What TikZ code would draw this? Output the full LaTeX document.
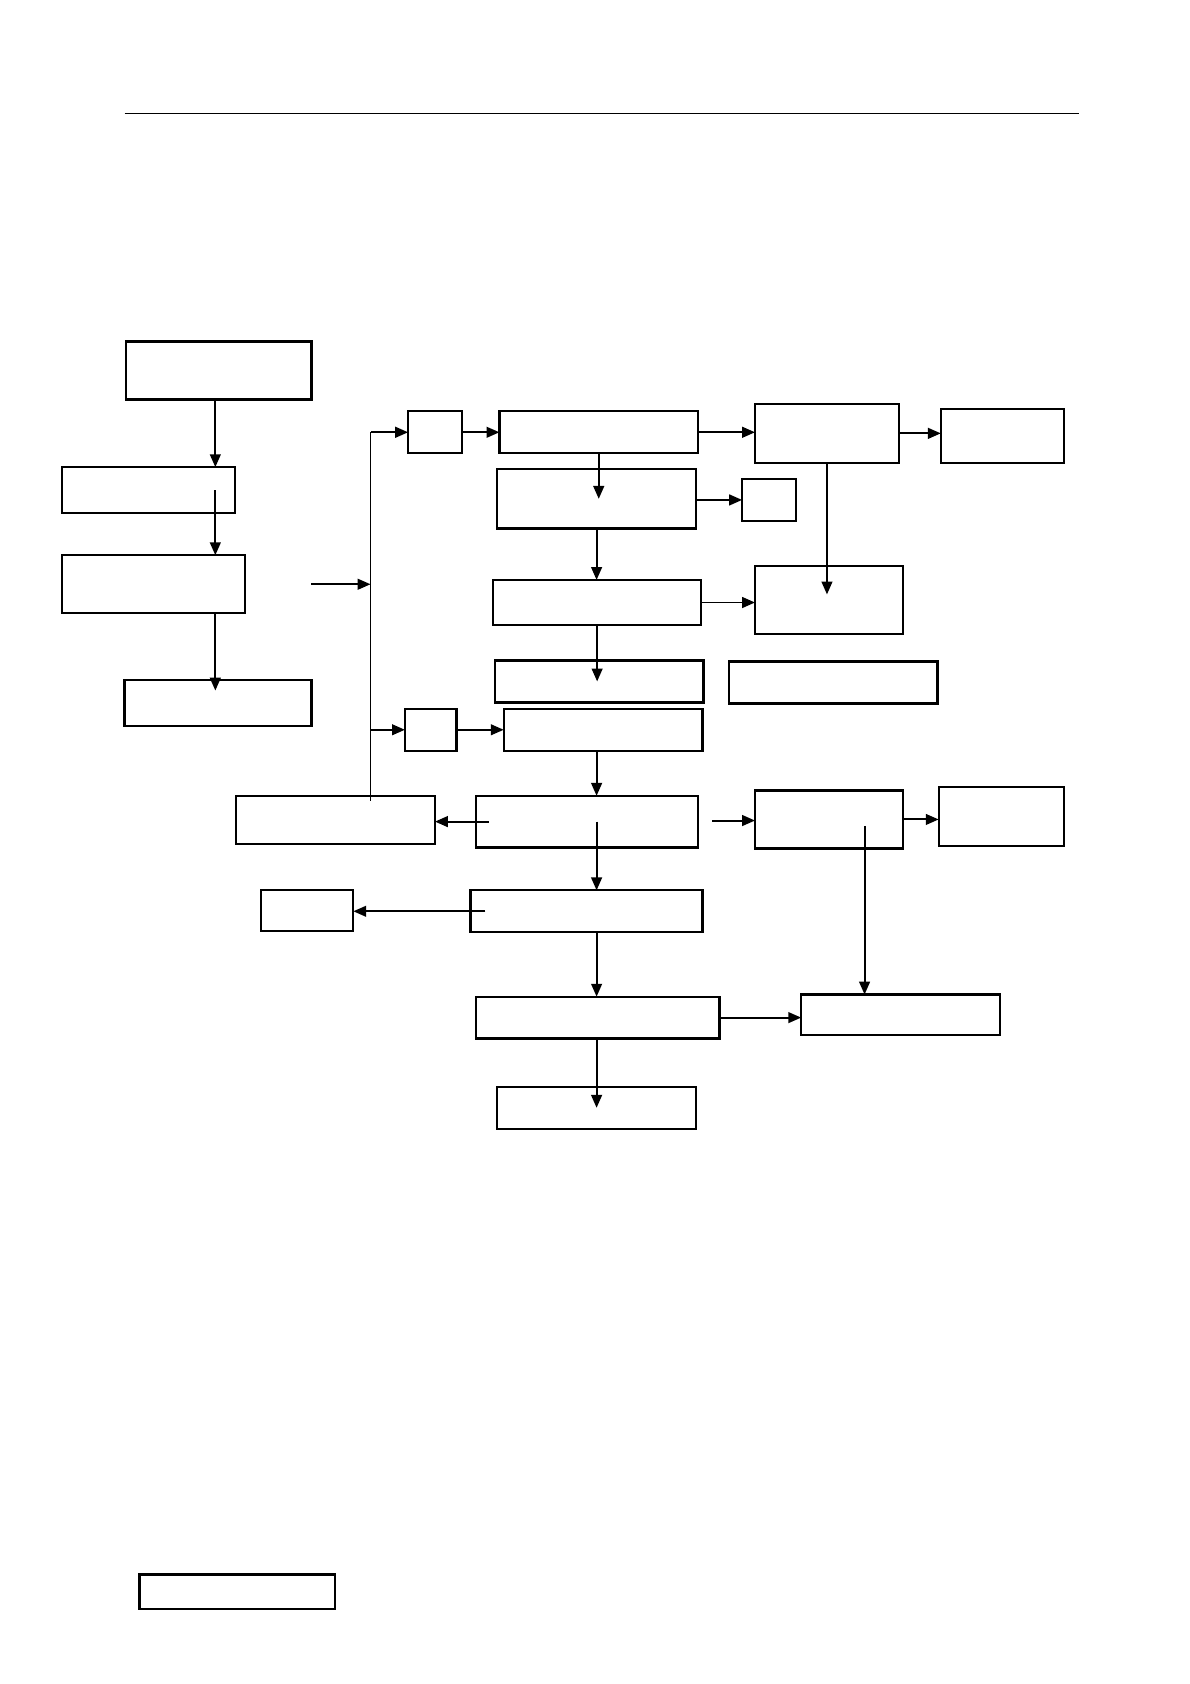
\documentclass[tikz,border=0pt]{standalone}
\usetikzlibrary{arrows.meta,calc}
\tikzset{
  blk/.style 2 args={draw,line width=1.2pt,inner sep=0pt,outer sep=0pt,minimum width=#1*0.02cm,minimum height=#2*0.02cm},
  arr/.style={line width=1.05pt,-{Triangle[length=2.4mm,width=2mm]}},
  bus/.style={line width=0.65pt}
}
\begin{document}
\begin{tikzpicture}[x=0.02cm,y=-0.02cm]
        \useasboundingbox (0,0) rectangle (1108,1568);
        \draw[line width=0.55pt] (116,106) -- (1005,106);
        % left column
        \node[blk={173}{54}] at (203.5,345) (a) {};
        \node[blk={161}{43}] at (138.5,456.5) (b) {};
        \node[blk={170}{54}] at (143,544) (c) {};
        \node[blk={174}{43}] at (203,654.5) (d) {};
        \coordinate (lc) at (200.5,0);
        \draw[arr] (lc |- a.south) -- (lc |- b.north);
        \draw[arr] (lc |- b.center) -- (lc |- c.north);
        \draw[arr,shorten >=-0.2cm] (lc |- c.south) -- (lc |- d.north);
        % upper branch
        \node[blk={50}{39}] at (405,402.5) (e1) {};
        \node[blk={185}{39}] at (557.5,402.5) (f1) {};
        \node[blk={134}{55}] at (770,403.5) (g) {};
        \node[blk={115}{50}] at (933.5,406) (h) {};
        \node[blk={185}{55}] at (555.5,464.5) (f2) {};
        \node[blk={50}{39}] at (716,465.5) (i) {};
        \node[blk={194}{42}] at (556,561) (f3) {};
        \node[blk={138}{63}] at (772,558.5) (j) {};
        \node[blk={194}{39}] at (558,634.5) (f4) {};
        \node[blk={194}{39}] at (776,635.5) (k) {};
        % lower branch
        \node[blk={48}{39}] at (401,679.5) (e2) {};
        \node[blk={185}{39}] at (561.5,679.5) (f5) {};
        \node[blk={185}{45}] at (312.5,763.5) (l) {};
        \node[blk={207}{48}] at (546.5,765) (f6) {};
        \node[blk={138}{54}] at (772,763) (m) {};
        \node[blk={117}{55}] at (932.5,760.5) (n) {};
        \node[blk={216}{39}] at (546,848.5) (f7) {};
        \node[blk={86}{38}] at (286,848) (q) {};
        \node[blk={227}{39}] at (556.5,947.5) (f8) {};
        \node[blk={185}{38}] at (838.5,945) (p) {};
        \node[blk={185}{39}] at (555.5,1031.5) (f9) {};
        \node[blk={182}{32}] at (221,1482) (r) {};
        % bus line
        \coordinate (bt) at (345,402.5);
        \coordinate (bb) at (345,746);
        \draw[bus] (bt) -- (bb);
        \draw[arr] (a.east |- c.east) -- (bt |- c.east);
        \draw[arr] (bt) -- (e1.west);
        \draw[arr] (bt |- e2.west) -- (e2.west);
        % upper connectors
        \draw[arr] (e1.east) -- (f1.west);
        \draw[arr] (f1.east) -- (g.west |- f1.east);
        \draw[arr] (g.east) -- (h.west |- g.east);
        \draw[arr] (f1.south) -- (f1.south |- f2.center);
        \draw[arr] (f2.east |- i.west) -- (i.west);
        \draw[arr] (f2.south) -- (f2.south |- f3.north);
        \draw[arr] (f3.east) -- (j.west |- f3.east);
        \draw[arr,shorten >=0.1cm] (g.south) -- (g.south |- j.center);
        \draw[arr] (f3.south) -- (f3.south |- f4.center);
        % lower connectors
        \draw[arr] (e2.east) -- (f5.west);
        \draw[arr] (f2.south |- f5.south) -- (f2.south |- f6.north);
        \coordinate (fl) at ($(f6.west)+(12,0)$);
        \draw[arr] (fl) -- (l.east |- fl);
        \coordinate (fm) at ($(f6.east)+(13,-1)$);
        \draw[arr] (fm) -- (m.west |- fm);
        \draw[arr] (m.east) -- (n.west |- m.east);
        \coordinate (m1) at ($(m.center)+(33,6)$);
        \draw[arr] (m1) -- (m1 |- p.north);
        \draw[arr] (f2.south |- f6.center) -- (f2.south |- f7.north);
        \coordinate (fq) at ($(f7.west)+(14,0)$);
        \draw[arr] (fq) -- (q.east |- fq);
        \draw[arr] (f2.south |- f7.south) -- (f2.south |- f8.north);
        \draw[arr] (f8.east) -- (p.west |- f8.east);
        \draw[arr] (f2.south |- f8.south) -- (f2.south |- f9.center);
    \end{tikzpicture}
\end{document}
